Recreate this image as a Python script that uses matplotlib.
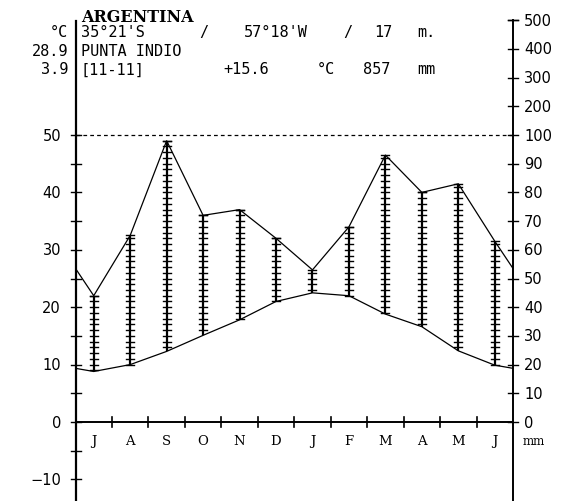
import matplotlib
matplotlib.use("Agg")
import matplotlib.pyplot as plt
import numpy as np

# ---------------- data ----------------
months = ["J", "A", "S", "O", "N", "D", "J", "F", "M", "A", "M", "J"]
temperature = [8.8, 10.0, 12.3, 15.1, 17.8, 21.0, 22.5, 22.0, 18.8, 16.6, 12.4, 9.9]
precipitation = [44, 65, 98, 72, 74, 64, 53, 68, 93, 80, 83, 63]
temp_ticks = [-10, 0, 10, 20, 30, 40, 50]
temp_minor = [-10, -5, 0, 5, 10, 15, 20, 25, 30, 35, 40, 45, 50]
precip_ticks = [0, 10, 20, 30, 40, 50, 60, 70, 80, 90, 100, 200, 300, 400, 500]

country = "ARGENTINA"
line1_tokens = ["35°21'S", "/", "57°18'W", "/", "17", "m."]
line1_cells = [0, 8, 10, 18, 20, 23]
station = "PUNTA INDIO"
line3_tokens = ["[11-11]", "+15.6", "°C", "857", "mm"]
line3_cells = [0, 9, 16, 19, 23]
left_col = ["°C", "28.9", "3.9"]


def pscale(p):
    p = np.asarray(p, dtype=float)
    return np.where(p <= 100, p / 2.0, 50 + (p - 100) / 20.0)


# ---------------- geometry ----------------
W, H = 571, 502
fig = plt.figure(figsize=(W / 100, H / 100), dpi=100)
fig.patch.set_facecolor("white")
X0, X1 = 75.5, 513.0
Y0, S = 423.0, 5.74
ylo = -(H - Y0) / S
yhi = Y0 / S
ax = fig.add_axes([X0 / W, 0, (X1 - X0) / W, 1])
ax.set_xlim(0, 12)
ax.set_ylim(ylo, yhi)
ax.axis("off")
dx = 12.0 / (X1 - X0)   # data units per pixel (x)
dy = 1.0 / S            # data units per pixel (y)

k = "black"
num_font = dict(family="DejaVu Sans", fontsize=10.5, color=k)
mono = dict(family="DejaVu Sans Mono", fontsize=11, color=k)

# ---------------- series ----------------
t = np.array(temperature)
p = pscale(precipitation)
xm = np.arange(12) + 0.5
xs = np.concatenate([[0], xm, [12]])
t_line = np.concatenate([[(t[0] + t[-1]) / 2], t, [(t[0] + t[-1]) / 2]])
p_line = np.concatenate([[(p[0] + p[-1]) / 2], p, [(p[0] + p[-1]) / 2]])

# humid hatching: vertical bars with small cross ticks
hw = 4 * dx
for x, lo, hi in zip(xm, t, p):
    if hi > lo:
        ax.plot([x, x], [lo, hi], color=k, lw=1.6, solid_capstyle="butt")
        for yy in np.arange(np.ceil(lo), np.floor(hi) + 1):
            ax.plot([x - hw, x + hw], [yy, yy], color=k, lw=1.0)
        ax.plot([x - hw, x + hw], [hi, hi], color=k, lw=1.0)

ax.plot(xs, p_line, color=k, lw=0.9)
ax.plot(xs, t_line, color=k, lw=0.9)

# 100 mm dashed line
ax.plot([0, 12], [50, 50], color=k, lw=0.9, ls=(0, (3, 2.5)))

# ---------------- axes ----------------
ax.plot([0, 0], [ylo, (Y0 - 22) / S], color=k, lw=1.6, clip_on=False)
ax.plot([12, 12], [ylo, 70], color=k, lw=1.4, clip_on=False)
ax.plot([12 - 5 * dx, 12 + 5 * dx], [70, 70], color=k, lw=1.0, clip_on=False)
ax.plot([0, 12], [0, 0], color=k, lw=1.4)
for i in range(1, 12):
    ax.plot([i, i], [-5 * dy, 5 * dy], color=k, lw=1.2)

for v in temp_minor:
    ax.plot([-5 * dx, 5 * dx], [v, v], color=k, lw=1.0, clip_on=False)
for v in temp_ticks:
    ax.text((61 - X0) * dx, v, str(v).replace("-", "\u2212"), ha="right", va="center", **num_font)

for v in precip_ticks:
    yv = float(pscale(v))
    ax.plot([12 - 5 * dx, 12 + 5 * dx], [yv, yv], color=k, lw=1.0, clip_on=False)
    ax.text(12 + (524 - X1) * dx, yv, str(v), ha="left", va="center", **num_font)

ax.text(12 + (523 - X1) * dx, -(442 - Y0) * dy, "mm", ha="left", va="center",
        family="DejaVu Serif", fontsize=8.5, color=k)

for x, m in zip(xm, months):
    ax.text(x, -(442 - Y0) * dy, m, ha="center", va="center",
            family="DejaVu Serif", fontsize=9.5, color=k)

# ---------------- header ----------------
def ftext(xp, yp, s, **kw):
    fig.text(xp / W, 1 - yp / H, s, **kw)

P = 14.4
XS = 81
ftext(XS, 17, country, ha="left", va="center", family="DejaVu Serif",
      fontsize=11.5, fontweight="bold", color=k)

rows_y = [33, 51.5, 70]
for y, s in zip(rows_y, left_col):
    ftext(68, y, s, ha="right", va="center", **mono)

for tok, c in zip(line1_tokens, line1_cells):
    if c == 0:
        ftext(XS, rows_y[0], tok, ha="left", va="center", **mono)
    else:
        ftext(XS + (c + len(tok) / 2) * P, rows_y[0], tok, ha="center", va="center", **mono)

ftext(XS, rows_y[1], station, ha="left", va="center", **mono)

for tok, c in zip(line3_tokens, line3_cells):
    if c == 0:
        ftext(XS, rows_y[2], tok, ha="left", va="center", **mono)
    else:
        ftext(XS + (c + len(tok) / 2) * P, rows_y[2], tok, ha="center", va="center", **mono)

fig.savefig("out.png", dpi=100, facecolor="white")
